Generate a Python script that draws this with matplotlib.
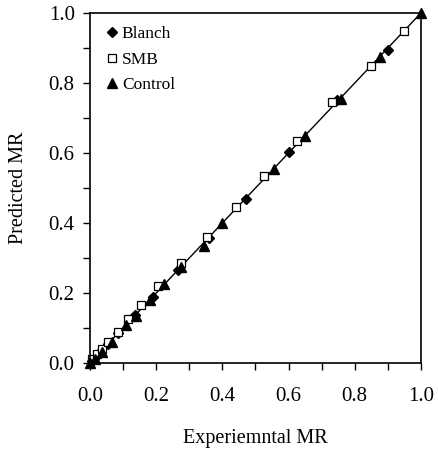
import matplotlib
matplotlib.use('Agg')
import matplotlib.pyplot as plt
from matplotlib.ticker import MultipleLocator

plt.rcParams['font.family'] = 'Liberation Serif'

# Experimental vs predicted moisture ratio
blanch_exp = [0.005, 0.012, 0.03, 0.055, 0.085, 0.135, 0.19, 0.265, 0.36, 0.47, 0.60, 0.745, 0.90]
blanch_pred = [0.005, 0.012, 0.03, 0.055, 0.087, 0.137, 0.19, 0.265, 0.357, 0.47, 0.602, 0.752, 0.895]

smb_exp = [0.005, 0.02, 0.035, 0.055, 0.085, 0.115, 0.155, 0.205, 0.275, 0.355, 0.44, 0.525, 0.625, 0.73, 0.85, 0.95]
smb_pred = [0.01, 0.025, 0.04, 0.06, 0.09, 0.125, 0.165, 0.22, 0.285, 0.36, 0.445, 0.535, 0.635, 0.745, 0.85, 0.95]

control_exp = [0.0, 0.015, 0.035, 0.065, 0.11, 0.14, 0.18, 0.225, 0.275, 0.345, 0.40, 0.555, 0.65, 0.76, 0.875, 1.0]
control_pred = [0.0, 0.012, 0.03, 0.06, 0.11, 0.135, 0.18, 0.225, 0.275, 0.335, 0.40, 0.555, 0.65, 0.755, 0.875, 1.0]

fig = plt.figure(figsize=(4.38, 4.55), dpi=100)
ax = fig.add_axes([0.2055, 0.2022, 0.7555, 0.7692])

ax.plot([0, 1], [0, 1], color='black', linewidth=1)
ax.plot(blanch_exp, blanch_pred, 'D', color='black', markersize=5, label='Blanch', clip_on=False)
ax.plot(smb_exp, smb_pred, 's', markerfacecolor='white', markeredgecolor='black',
        markersize=6, markeredgewidth=0.9, label='SMB', clip_on=False)
ax.plot(control_exp, control_pred, '^', color='black', markersize=7, label='Control', clip_on=False)

ax.set_xlim(0, 1)
ax.set_ylim(0, 1)
ax.xaxis.set_major_locator(MultipleLocator(0.2))
ax.yaxis.set_major_locator(MultipleLocator(0.2))
ax.xaxis.set_minor_locator(MultipleLocator(0.1))
ax.yaxis.set_minor_locator(MultipleLocator(0.1))
ax.xaxis.set_major_formatter(plt.FormatStrFormatter('%.1f'))
ax.yaxis.set_major_formatter(plt.FormatStrFormatter('%.1f'))
ax.tick_params(which='both', direction='out', length=5, width=1, labelsize=15)
ax.tick_params(axis='x', pad=12)
ax.tick_params(axis='y', pad=6)
for s in ax.spines.values():
    s.set_linewidth(1.2)

ax.set_xlabel('Experiemntal MR', fontsize=14.5, labelpad=17)
ax.set_ylabel('Predicted MR', fontsize=14.5, labelpad=15)

ax.legend(loc='upper left', frameon=False, fontsize=12.5, handlelength=0.6,
          handletextpad=0.25, labelspacing=0.55, borderaxespad=0.3,
          bbox_to_anchor=(0.015, 0.998))

fig.savefig('out.png', dpi=100)
